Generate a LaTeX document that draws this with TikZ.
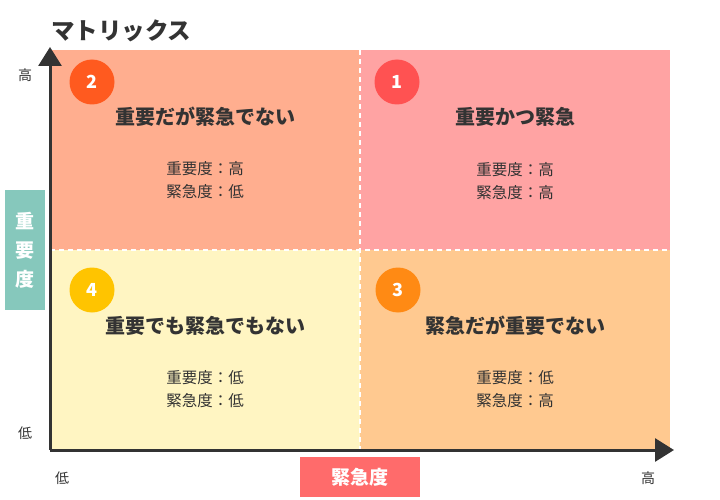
\documentclass[tikz,border=0pt]{standalone}
\usepackage{fontspec}
\setmainfont{Noto Sans CJK JP}
\usetikzlibrary{arrows.meta}
\definecolor{qtwo}{HTML}{FFAE8F}
\definecolor{qone}{HTML}{FFA3A3}
\definecolor{qfour}{HTML}{FFF5C2}
\definecolor{qthree}{HTML}{FFC990}
\definecolor{ctwo}{HTML}{FF5A1F}
\definecolor{cone}{HTML}{FF5252}
\definecolor{cfour}{HTML}{FFC400}
\definecolor{cthree}{HTML}{FF8A14}
\definecolor{teal}{HTML}{86C8BC}
\definecolor{redbox}{HTML}{FF6B6B}
\definecolor{ink}{HTML}{333333}
\begin{document}
\begin{tikzpicture}[x=1pt,y=-1pt,
  numcirc/.style={circle,minimum size=45pt,inner sep=0pt,text=white,font=\fontsize{18}{18}\selectfont\bfseries},
  heading/.style={text=ink,font=\fontsize{20}{20}\selectfont\bfseries},
  sub/.style={text=ink,font=\fontsize{15.5}{22.5}\selectfont,align=center},
  tick/.style={text=ink,font=\fontsize{14}{14}\selectfont},
  divider/.style={white,line width=2pt,dash pattern=on 5pt off 4pt},
  axis/.style={ink,line width=3pt}]
\useasboundingbox (0,0) rectangle (720,500);
% quadrants
\fill[qtwo] (50,50) rectangle (360,250);
\fill[qone] (360,50) rectangle (670,250);
\fill[qfour] (50,250) rectangle (360,450);
\fill[qthree] (360,250) rectangle (670,450);
\draw[divider] (360,50) -- (360,450);
\draw[divider] (50,250) -- (670,250);
% title
\node[text=ink,font=\fontsize{23.5}{23.5}\selectfont\bfseries,anchor=west,inner sep=0pt] (title) at (51,31) {マトリックス};
% axes
\coordinate (origin) at (50,450);
\coordinate (ytip) at (50,47);
\coordinate (xtip) at (674,450);
\draw[axis,-{Triangle[length=19pt,width=23pt]}] (origin) -- (ytip);
\draw[axis,-{Triangle[length=19pt,width=23pt]}] (origin) -- (xtip);
% ticks
\node[tick] (yhigh) at (25,75) {高};
\node[tick] (ylow) at (25,433) {低};
\node[tick] (xlow) at (62,478) {低};
\node[tick] (xhigh) at (648,478) {高};
% axis labels
\node[fill=teal,minimum width=40pt,minimum height=120pt,inner sep=0pt,text=white,font=\fontsize{19}{29}\selectfont\bfseries,align=center] (ylabel) at (25,250) {重\\要\\度};
\node[fill=redbox,minimum width=120pt,minimum height=40pt,inner sep=0pt,text=white,font=\fontsize{19}{19}\selectfont\bfseries] (xlabel) at (360,477) {緊急度};
% circles
\node[numcirc,fill=ctwo] (c2) at (92,82) {2};
\node[numcirc,fill=cone] (c1) at (397,82) {1};
\node[numcirc,fill=cfour] (c4) at (92,290) {4};
\node[numcirc,fill=cthree] (c3) at (398,290) {3};
% headings
\node[heading] (h2) at (205,117) {重要だが緊急でない};
\node[heading] (h1) at (515,117) {重要かつ緊急};
\node[heading] (h4) at (205,326) {重要でも緊急でもない};
\node[heading] (h3) at (515,326) {緊急だが重要でない};
% sub texts
\node[sub] (s2) at (205,180) {重要度：高\\緊急度：低};
\node[sub] (s1) at (515,181) {重要度：高\\緊急度：高};
\node[sub] (s4) at (205,389) {重要度：低\\緊急度：低};
\node[sub] (s3) at (515,389) {重要度：低\\緊急度：高};
\end{tikzpicture}
\end{document}
